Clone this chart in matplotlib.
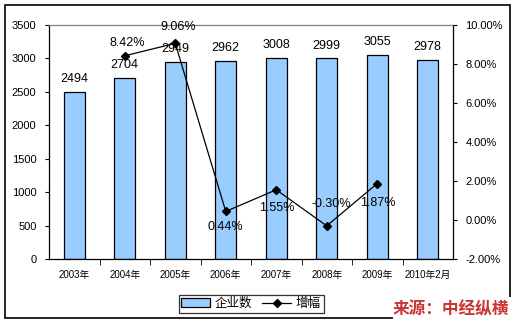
import matplotlib
matplotlib.use("Agg")
import matplotlib.pyplot as plt
from matplotlib.patches import Rectangle
from matplotlib.lines import Line2D
import matplotlib.ticker as mticker

plt.rcParams['font.family'] = ['Liberation Sans', 'Noto Sans CJK SC', 'DejaVu Sans']

categories = ['2003年', '2004年', '2005年', '2006年', '2007年', '2008年', '2009年', '2010年2月']
companies = [2494, 2704, 2949, 2962, 3008, 2999, 3055, 2978]
growth_cats = ['2004年', '2005年', '2006年', '2007年', '2008年', '2009年']
growth = [8.42, 9.06, 0.44, 1.55, -0.30, 1.87]
growth_labels = ['8.42%', '9.06%', '0.44%', '1.55%', '-0.30%', '1.87%']
label_offsets = [(2, 9.5), (2, 12), (0, -11), (0, -13), (3.5, 16), (0.5, -14)]

fig = plt.figure(figsize=(5.17, 3.25), dpi=100)
# outer border
fig.patches.append(Rectangle((5/517, 1-318/325), 505/517, 313/325, transform=fig.transFigure,
                             fill=False, edgecolor='black', linewidth=1.2))

ax = fig.add_axes([49/517, 1-259/325, 404/517, 234/325])
x = list(range(len(categories)))
ax.bar(x, companies, width=0.42, color='#99CCFF', edgecolor='black', linewidth=0.9, zorder=2)
ax.set_xlim(-0.5, len(categories)-0.5)
ax.set_ylim(0, 3500)
ax.set_yticks(range(0, 3501, 500))
ax.tick_params(axis='y', labelsize=8, length=3, direction='out', pad=6)
ax.set_xticks(x)
ax.set_xticklabels(categories, fontsize=7)
ax.tick_params(axis='x', length=0, pad=8)
ax.set_xticks([i + 0.5 for i in range(len(categories)-1)], minor=True)
ax.tick_params(axis='x', which='minor', length=4, direction='out')
for s in ['left', 'bottom', 'right']:
    ax.spines[s].set_color('black')
    ax.spines[s].set_linewidth(0.9)
ax.spines['top'].set_color('#808080')
ax.spines['top'].set_linewidth(0.9)
for xi, v in zip(x, companies):
    ax.annotate(str(v), (xi, v), xytext=(0, 5), textcoords='offset points',
                ha='center', va='bottom', fontsize=9)

ax2 = ax.twinx()
ax2.set_ylim(-2, 10)
ax2.set_yticks([-2, 0, 2, 4, 6, 8, 10])
ax2.yaxis.set_major_formatter(mticker.FuncFormatter(lambda v, p: f'{v:.2f}%'))
ax2.tick_params(axis='y', labelsize=8, length=3, direction='out', pad=6)
for s in ax2.spines.values():
    s.set_visible(False)
gx = [categories.index(c) for c in growth_cats]
ax2.plot(gx, growth, color='black', linewidth=0.9, marker='D', markersize=4, zorder=3)
for xi, v, lab, off in zip(gx, growth, growth_labels, label_offsets):
    ax2.annotate(lab, (xi, v), xytext=off, textcoords='offset points',
                 ha='center', va='center', fontsize=9)

handles = [Rectangle((0, 0), 1, 1, facecolor='#99CCFF', edgecolor='black', linewidth=0.9),
           Line2D([0], [0], color='black', linewidth=0.9, marker='D', markersize=4)]
leg = fig.legend(handles, ['企业数', '增幅'], loc='center', bbox_to_anchor=(251/517, 1-304/325),
                 ncol=2, fontsize=9, frameon=True, fancybox=False, edgecolor='black',
                 borderpad=0.2, handlelength=2.3, columnspacing=0.8, handletextpad=0.4)
leg.get_frame().set_linewidth(0.9)

# cover bottom-right corner of border for source text
fig.patches.append(Rectangle((393/517, 0), 124/517, 1-297/325, transform=fig.transFigure,
                             facecolor='white', edgecolor='none', zorder=5))
fig.text(451/517, 1-309/325, '来源：中经纵横', color='#CC3333', fontsize=12,
         fontweight='bold', style='italic', ha='center', va='center', zorder=6,
         family=['Noto Sans CJK SC', 'DejaVu Sans'])

fig.savefig('out.png', dpi=100)
